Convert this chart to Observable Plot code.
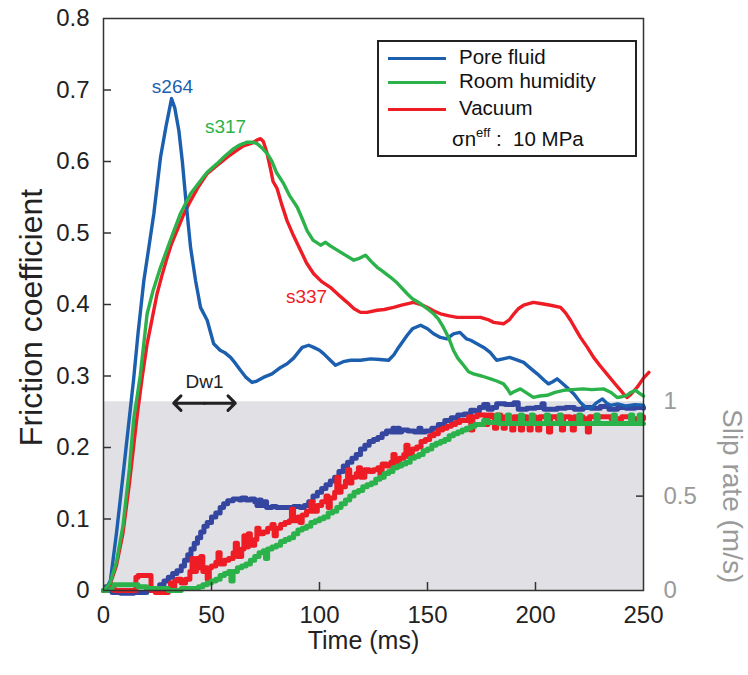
<!DOCTYPE html>
<html><head><meta charset="utf-8">
<script src="https://cdn.jsdelivr.net/npm/d3@7"></script>
<script src="https://cdn.jsdelivr.net/npm/@observablehq/plot@0.6"></script>
<style>
body{margin:0;background:#fff;font-family:"Liberation Sans",Arial,sans-serif;}
#wrap{position:relative;width:748px;height:675px;}
#legend{position:absolute;left:377px;top:40px;width:256px;height:113px;border:2px solid #222;background:#fff;font-size:20.5px;color:#111;}
#legend .sw{position:absolute;left:9px;width:58px;height:3px;}
#legend .lb{position:absolute;left:80px;line-height:22px;white-space:nowrap;}
#legend sup{font-size:13px;vertical-align:9px;line-height:0;}
</style></head><body><div id="wrap"></div>
<script>
// ---------- data ----------
const seriesNames = ["Pore fluid", "Room humidity", "Vacuum"];
const seriesColors = ["#1b5fae", "#2cb24a", "#ee1d25"];
const slipColors = ["#3446a0", "#2cb24a", "#ee1d25"];
const sampleLabels = ["s264", "s317", "s337"];

// Friction coefficient (time in ms)
const poreT = [0,1.5,3.2,6,9,11,13.9,16,18.7,21,23.3,26.4,29,31.5,33,34.9,36.5,38,40.3,42.6,44.9,48,51,54,56,58.8,61,63.4,66,68.8,71,74,78,82,85,88,92,95,97.3,100,102,105,107.4,111,114.4,119,123.6,128,132,134.5,136.6,140.6,143,146.8,150,152.8,156,159,162,165,168,170,176,179,182,185,188,191,194.5,198,200.8,204,206,208,210,212,214.6,218,220.8,223,225.5,228,231,233,234.7,238,242,246,250];
const poreF = [0,0.004,0.014,0.08,0.16,0.215,0.294,0.36,0.434,0.48,0.527,0.606,0.65,0.688,0.675,0.643,0.6,0.55,0.48,0.434,0.396,0.378,0.345,0.336,0.333,0.326,0.318,0.308,0.298,0.291,0.293,0.298,0.303,0.312,0.317,0.325,0.34,0.343,0.34,0.336,0.331,0.322,0.315,0.32,0.322,0.322,0.324,0.323,0.322,0.33,0.34,0.357,0.366,0.371,0.366,0.359,0.354,0.352,0.359,0.361,0.352,0.35,0.34,0.333,0.322,0.324,0.326,0.323,0.319,0.31,0.303,0.294,0.289,0.292,0.296,0.291,0.284,0.274,0.263,0.257,0.254,0.262,0.268,0.262,0.259,0.261,0.258,0.26,0.259];

const humidT = [0,3,6,9,12,14,17,20.2,23,26.4,31,35.6,40.3,44.9,48,52.6,56,60.3,63,66.5,69,71.1,73,75.8,78,80,83.4,86,89.7,92,94.3,97,100.5,102.8,105,108.2,112,115.9,118,121.3,124,126.7,129,132.9,136,140.6,143,146.8,150,152.8,155,157.4,160,162,164,166.7,169,171.3,175,179.2,182,185.2,187,188.4,190,193,196,199,202,205.4,209,213,217,222,226,231.5,235,237.8,240,242.4,244,246.3,248,250];
const humidF = [0,0.01,0.04,0.09,0.17,0.24,0.3,0.387,0.42,0.452,0.49,0.527,0.555,0.573,0.585,0.597,0.607,0.618,0.623,0.627,0.627,0.625,0.62,0.611,0.6,0.585,0.569,0.553,0.536,0.52,0.503,0.49,0.483,0.487,0.482,0.476,0.469,0.462,0.464,0.469,0.46,0.452,0.447,0.438,0.43,0.415,0.408,0.401,0.394,0.387,0.38,0.368,0.352,0.336,0.325,0.315,0.306,0.303,0.3,0.296,0.293,0.289,0.282,0.275,0.278,0.282,0.276,0.27,0.272,0.273,0.277,0.28,0.281,0.282,0.281,0.282,0.277,0.27,0.271,0.273,0.277,0.28,0.276,0.272];

const vacT = [0,3,6,9,12,15.6,18,20.2,22.5,24.8,27,29.5,31.5,34,37,40.3,44,48,52,57.3,61,64.8,67,69,71,72.7,74,75.5,77.3,78.5,80.4,82.5,85,88,91.2,94,97.3,101,105,109,112.8,116,119,122,126.7,130,134.3,138,143.5,147,149.8,153,156,160,163.7,168,174.5,178,180.6,185.2,188,190,192,194.5,199,203,207,211.6,214,216.2,218.5,220.8,224,226.9,230,233,236,239.4,241,242.4,244,247,250,252.5];
const vacF = [0,0.008,0.035,0.08,0.15,0.245,0.3,0.345,0.38,0.415,0.44,0.466,0.485,0.503,0.525,0.545,0.565,0.583,0.593,0.606,0.614,0.622,0.624,0.626,0.63,0.632,0.628,0.614,0.59,0.572,0.562,0.54,0.517,0.496,0.476,0.458,0.443,0.432,0.424,0.413,0.403,0.394,0.389,0.389,0.392,0.393,0.396,0.399,0.403,0.4,0.396,0.391,0.387,0.384,0.382,0.382,0.382,0.379,0.375,0.373,0.379,0.387,0.394,0.399,0.403,0.401,0.399,0.396,0.388,0.378,0.366,0.354,0.34,0.326,0.314,0.303,0.292,0.28,0.274,0.27,0.274,0.284,0.297,0.305];

// Slip rate (m/s), right axis
const poreSlipT = [0,1,2.5,4,8,14,20,23,26,28,30,32,34,36,37.5,39,40.5,42,43.5,45,46.5,48,50,52,54,55.6,57.5,60,63,64,66,68,70,71,72,73,74.5,75.5,78,80,82,85,88,91,93,95,97,99,101,103,105,107,109,111,113,115,117,119,121,123,125,127,129,131,133,134,135,136,137,138,141,144,146,147,149,152,155,158,161,164,167,170,172,174,176,178,180,182,186,190,192,196,200,203,204,210,214,218,222,226,230,234,238,242,246,250];
const poreSlip = [0,0.02,0,-0.01,-0.015,-0.01,0,0.01,0.03,0.05,0.07,0.09,0.105,0.13,0.16,0.19,0.22,0.25,0.28,0.31,0.34,0.36,0.39,0.41,0.44,0.46,0.475,0.485,0.48,0.49,0.48,0.485,0.47,0.45,0.48,0.45,0.47,0.44,0.445,0.44,0.44,0.44,0.445,0.44,0.45,0.47,0.5,0.52,0.54,0.56,0.58,0.6,0.63,0.66,0.68,0.7,0.72,0.75,0.77,0.79,0.8,0.81,0.83,0.845,0.84,0.86,0.84,0.86,0.84,0.85,0.845,0.84,0.86,0.84,0.845,0.86,0.88,0.9,0.915,0.93,0.935,0.955,0.95,0.97,0.985,0.96,0.97,0.99,0.985,0.995,0.96,0.965,0.97,0.99,0.96,0.965,0.97,0.96,0.97,0.965,0.975,0.96,0.97,0.965,0.97,0.965];

const humidSlipT = [0,2,4,12,16,20,30,36,40,44,46,48,50,52,54,56,58,59,60,62,64,66,68,70,72,74,75,76,78,80,82,84,86,88,90,92,94,96,98,100,102,104,106,108,110,112,114,116,118,120,122,124,126,128,130,132,134,136,138,140,142,144,146,148,150,152,154,156,158,160,162,164,166,168,170,172,174,176,178,180,182,183,187,188,193,194,198,199,205,206,211,212,220,221,228,229,236,237,244,245,248,249,250];
const humidSlip = [0,0.01,0.03,0.03,0.02,0.01,0,0.01,0.01,0.02,0.03,0.04,0.05,0.06,0.08,0.09,0.1,0.05,0.1,0.12,0.13,0.14,0.16,0.18,0.2,0.21,0.17,0.22,0.23,0.24,0.26,0.27,0.28,0.3,0.32,0.33,0.34,0.36,0.37,0.38,0.39,0.41,0.42,0.44,0.46,0.48,0.5,0.52,0.53,0.55,0.56,0.57,0.59,0.6,0.62,0.63,0.65,0.66,0.67,0.68,0.7,0.71,0.72,0.74,0.75,0.77,0.78,0.79,0.8,0.82,0.83,0.84,0.85,0.86,0.87,0.88,0.88,0.9,0.89,0.89,0.93,0.885,0.93,0.885,0.93,0.885,0.93,0.885,0.93,0.885,0.93,0.885,0.93,0.885,0.93,0.885,0.93,0.885,0.93,0.885,0.93,0.885,0.885];

const vacSlipT = [0,2,5,12,15,16,21,22,24,30,31,32,33,34,36,38,40,41,42,43,44,45,46,47,48,49,50,52,53,54,56,58,60,61,62,64,65,66,67,68,70,71,72,74,76,78,79,80,82,84,86,87,88,90,91,92,94,96,97,99,101,103,104,105,107,108,109,110,112,113,114,115,117,118,119,121,123,125,127,128,129,131,133,134,135,137,139,140,141,143,145,147,149,151,153,155,157,159,161,163,165,167,169,170,171,173,175,177,178,180,181,182,184,185,186,188,189,190,192,193,194,196,197,198,200,201,202,205,206,207,210,212,213,216,217,218,222,224,225,230,235,240,245,250];
const vacSlip = [0,0.01,0,0,0.07,0.08,0.08,0,-0.01,0,0.04,0.01,0.05,0.06,0.04,0.06,0.1,0.17,0.1,0.17,0.12,0.18,0.1,0.12,0.06,0.12,0.13,0.15,0.2,0.14,0.16,0.17,0.2,0.25,0.18,0.22,0.29,0.23,0.3,0.24,0.27,0.33,0.3,0.31,0.33,0.35,0.29,0.33,0.35,0.36,0.37,0.43,0.37,0.39,0.36,0.4,0.42,0.47,0.42,0.45,0.47,0.5,0.44,0.49,0.52,0.6,0.52,0.55,0.58,0.64,0.57,0.6,0.62,0.65,0.6,0.64,0.63,0.64,0.65,0.6,0.67,0.66,0.68,0.72,0.66,0.7,0.72,0.77,0.71,0.75,0.76,0.79,0.8,0.82,0.83,0.85,0.86,0.87,0.88,0.89,0.9,0.9,0.92,0.85,0.92,0.93,0.93,0.88,0.93,0.92,0.86,0.93,0.91,0.86,0.92,0.91,0.85,0.92,0.9,0.85,0.92,0.91,0.85,0.92,0.91,0.85,0.92,0.91,0.84,0.92,0.91,0.85,0.92,0.91,0.85,0.92,0.91,0.84,0.92,0.92,0.91,0.92,0.91,0.92];

// axes / ticks
const xTicks = [0, 50, 100, 150, 200, 250];
const yTicks = [0, 0.1, 0.2, 0.3, 0.4, 0.5, 0.6, 0.7, 0.8];
const slipTicks = [0, 0.5, 1];
const slipTickLabels = ["0", "0.5", "1"];
const slipFull = 0.264;        // friction-axis value where slip rate = 1 m/s
const labelT = [31.9, 56.5, 94];
const labelF = [0.704, 0.648, 0.411];
const dwLabel = "Dw1";
const dwRange = [32.5, 61];
const dwLevel = 0.262;

// ---------- build ----------
const zip = (T, V) => T.map((t, i) => ({t, v: V[i]}));
const fric = [zip(poreT, poreF), zip(humidT, humidF), zip(vacT, vacF)];
const slip = [zip(poreSlipT, poreSlip), zip(humidSlipT, humidSlip), zip(vacSlipT, vacSlip)];
const dwMid = (dwRange[0] + dwRange[1]) / 2;

const plot = Plot.plot({
  width: 748, height: 675,
  marginLeft: 103, marginRight: 105, marginTop: 18, marginBottom: 85,
  style: {fontFamily: "Liberation Sans, Arial, sans-serif", background: "#fff", overflow: "visible"},
  x: {domain: [0, 250]},
  y: {domain: [0, 0.8]},
  marks: [
    Plot.rect([{x1: 0, x2: 250, y1: 0, y2: slipFull}], {x1: "x1", x2: "x2", y1: "y1", y2: "y2", fill: "#e1e1e5"}),
    // slip rates
    Plot.line(slip[0], {x: "t", y: d => d.v * slipFull, stroke: slipColors[0], strokeWidth: 5, curve: "step-after"}),
    Plot.line(slip[2], {x: "t", y: d => d.v * slipFull, stroke: slipColors[2], strokeWidth: 5, curve: "step-after"}),
    Plot.line(slip[1], {x: "t", y: d => d.v * slipFull, stroke: slipColors[1], strokeWidth: 5, curve: "step-after"}),
    // friction
    Plot.line(fric[2], {x: "t", y: "v", stroke: seriesColors[2], strokeWidth: 3.4, curve: "linear"}),
    Plot.line(fric[0], {x: "t", y: "v", stroke: seriesColors[0], strokeWidth: 3.4, curve: "linear"}),
    Plot.line(fric[1], {x: "t", y: "v", stroke: seriesColors[1], strokeWidth: 3.4, curve: "linear"}),
    Plot.frame({stroke: "#333", strokeWidth: 1.5}),
    // axes
    Plot.axisX({ticks: xTicks, tickSize: 0, tickPadding: 15, fontSize: 24, label: null, tickFormat: d => String(d), color: "#222"}),
    Plot.axisX({ticks: xTicks.slice(1, -1), tickSize: -8, text: null, stroke: "#333", strokeWidth: 1.5}),
    Plot.axisY({ticks: yTicks, tickSize: 0, tickPadding: 14, fontSize: 24, label: null, tickFormat: d => d === 0 ? "0" : d.toFixed(1), color: "#222"}),
    Plot.axisY({ticks: yTicks.slice(1, -1), tickSize: -8, text: null, stroke: "#333", strokeWidth: 1.5}),
    Plot.axisY({anchor: "right", ticks: [0.5 * slipFull], tickSize: -8, text: null, stroke: "#333", strokeWidth: 1.5, label: null}),
    Plot.text(slipTicks, {x: 250, y: d => d * slipFull, text: (d, i) => slipTickLabels[i], dx: 20, textAnchor: "start", fontSize: 24, fill: "#9a9a9a"}),
    // axis titles
    Plot.text(["Friction coefficient"], {frameAnchor: "left", textAnchor: "middle", dx: -72, dy: 13, rotate: -90, fontSize: 32, fill: "#222"}),
    Plot.text(["Time (ms)"], {frameAnchor: "bottom", textAnchor: "middle", dy: 58, dx: -10, fontSize: 25, fill: "#222"}),
    Plot.text(["Slip rate (m/s)"], {x: 250, y: 0.5 * slipFull, textAnchor: "middle", dx: 88, rotate: 90, fontSize: 28, fill: "#9a9a9a"}),
    // annotations
    Plot.text(sampleLabels, {x: (d, i) => labelT[i], y: (d, i) => labelF[i], text: d => d, fill: (d, i) => seriesColors[i], fontSize: 19}),
    Plot.text([dwLabel], {x: dwMid, y: dwLevel + 0.03, text: d => d, fill: "#222", fontSize: 19}),
    Plot.arrow(dwRange, {x1: dwMid, x2: d => d, y1: dwLevel, y2: dwLevel, stroke: "#222", strokeWidth: 3, headLength: 11, headAngle: 90})
  ]
});
const wrap = document.getElementById("wrap");
wrap.appendChild(plot);

// legend (inside the plot area)
const lg = document.createElement("div");
lg.id = "legend";
const rows = [16, 40, 67];
seriesNames.forEach((name, i) => {
  const sw = document.createElement("div");
  sw.className = "sw"; sw.style.top = (rows[i] - 1.5) + "px"; sw.style.background = seriesColors[i];
  lg.appendChild(sw);
  const lb = document.createElement("div");
  lb.className = "lb"; lb.style.top = (rows[i] - 12) + "px"; lb.textContent = name;
  lg.appendChild(lb);
});
const sg = document.createElement("div");
sg.className = "lb"; sg.style.left = "73px"; sg.style.top = "86px";
sg.innerHTML = "σn<sup>eff</sup> :&nbsp; 10 MPa";
lg.appendChild(sg);
wrap.appendChild(lg);
</script></body></html>
